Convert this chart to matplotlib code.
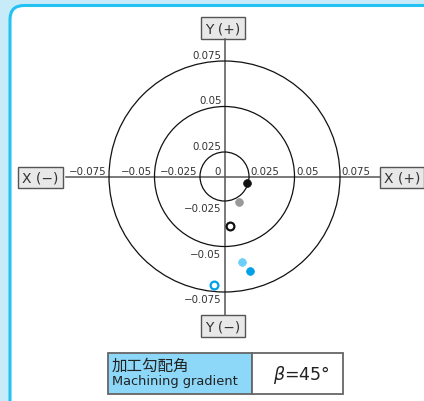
import numpy as np
import matplotlib
matplotlib.use("Agg")
import matplotlib.pyplot as plt
from matplotlib.patches import FancyBboxPatch, Rectangle, Circle

plt.rcParams["font.family"] = ["DejaVu Sans"]

# data (schematic: rings and ticks sit on a piecewise scale)
rings = [0.025, 0.05, 0.075]
pos_ticks = [0.025, 0.05, 0.075]
pos_labels = ["0.025", "0.05", "0.075"]
neg_ticks = [-0.025, -0.05, -0.075]
neg_labels = ["\u22120.025", "\u22120.05", "\u22120.075"]

pt_x = [0.0232, 0.0147, 0.0058, 0.0178, 0.0253, -0.0105]
pt_y = [-0.0067, -0.0258, -0.0390, -0.0586, -0.0634, -0.0710]
pt_face = ["#111111", "#999999", "white", "#6ecff6", "#00a0e9", "white"]
pt_edge = ["#111111", "#999999", "#111111", "#6ecff6", "#00a0e9", "#00a0e9"]

# piecewise scale: data value -> pixels from centre
knots_v = [0.0, 0.025, 0.05, 0.075, 0.1, 0.15]
knots_p = [0.0, 24.5, 70.0, 115.5, 161.0, 252.0]


def fwd(v):
    v = np.asarray(v, dtype=float)
    return np.sign(v) * np.interp(np.abs(v), knots_v, knots_p)


def inv(p):
    p = np.asarray(p, dtype=float)
    return np.sign(p) * np.interp(np.abs(p), knots_p, knots_v)


W, H = 424, 402
CX, CY = 224.5, 177.5
R = 161.0

fig = plt.figure(figsize=(W / 100, H / 100), dpi=100)

# background layer in pixel units
bg = fig.add_axes([0, 0, 1, 1])
bg.set_xlim(0, W)
bg.set_ylim(H, 0)
bg.axis("off")
bg.add_patch(Rectangle((0, 0), W, H, facecolor="#c8ebfa", edgecolor="none"))
bg.add_patch(FancyBboxPatch((10, 6.5), 440, 420, boxstyle="round,pad=0,rounding_size=14",
                            facecolor="white", edgecolor="#22c3f3", linewidth=2.2))

# axis lines
bg.plot([66, 380], [CY, CY], color="#555555", lw=1.1)
bg.plot([CX, CX], [40, 316], color="#555555", lw=1.1)


def label_box(x0, y0, w, h, txt):
    bg.add_patch(Rectangle((x0, y0), w, h, facecolor="#e8e8e8", edgecolor="#555555", lw=1))
    bg.text(x0 + w / 2, y0 + h / 2 + 0.5, txt, ha="center", va="center", fontsize=10, color="#333333")


label_box(201, 18, 44, 22, "Y (+)")
label_box(201, 316, 44, 22, "Y (\u2212)")
label_box(18, 168, 45, 21, "X (\u2212)")
label_box(380, 168, 44, 21, "X (+)")

# table
bg.add_patch(Rectangle((108, 353.5), 144, 41, facecolor="#8dd8f8", edgecolor="#666666", lw=1.3))
bg.add_patch(Rectangle((252, 353.5), 91, 41, facecolor="white", edgecolor="#666666", lw=1.3))
bg.text(112, 366.5, "加工勾配角", ha="left", va="center", fontsize=11.2,
        family=["Noto Sans CJK JP", "DejaVu Sans"], color="#222222")
bg.text(112, 382, "Machining gradient", ha="left", va="center", fontsize=9.4, color="#222222")
bg.text(301, 375, r"$\beta$=45°", ha="center", va="center", fontsize=12.5, color="#222222")

# chart axes
ax = fig.add_axes([(CX - R) / W, (H - CY - R) / H, 2 * R / W, 2 * R / H])
ax.patch.set_alpha(0)
ax.set_xscale("function", functions=(fwd, inv))
ax.set_yscale("function", functions=(fwd, inv))
ax.set_xlim(-0.1, 0.1)
ax.set_ylim(-0.1, 0.1)
ax.axis("off")

scaled = ax.transLimits + ax.transAxes
for r in rings:
    ax.add_patch(Circle((0, 0), float(fwd(r)), transform=scaled, fill=False,
                        edgecolor="#111111", lw=0.9, clip_on=False))

for x, y, fc, ec in zip(pt_x, pt_y, pt_face, pt_edge):
    ax.plot([x], [y], "o", ms=5.6, mfc=fc, mec=ec, mew=1.6 if fc == "white" else 0.5,
            clip_on=False, zorder=5)

# tick labels
fs = 7.4
col = "#333333"
for t, s in zip(pos_ticks, pos_labels):
    ax.annotate(s, (t, 0), xytext=(1.2, 0.6), textcoords="offset points",
                ha="left", va="bottom", fontsize=fs, color=col)
    ax.annotate(s, (0, t), xytext=(-2.2, 0.8), textcoords="offset points",
                ha="right", va="bottom", fontsize=fs, color=col)
for t, s in zip(neg_ticks, neg_labels):
    ax.annotate(s, (t, 0), xytext=(-1.8, 0.6), textcoords="offset points",
                ha="right", va="bottom", fontsize=fs, color=col)
    ax.annotate(s, (0, t), xytext=(-2.2, -1.5), textcoords="offset points",
                ha="right", va="top", fontsize=fs, color=col)
ax.annotate("0", (0, 0), xytext=(-2.5, 0.6), textcoords="offset points",
            ha="right", va="bottom", fontsize=fs, color=col)

fig.savefig("out.png", dpi=100)
